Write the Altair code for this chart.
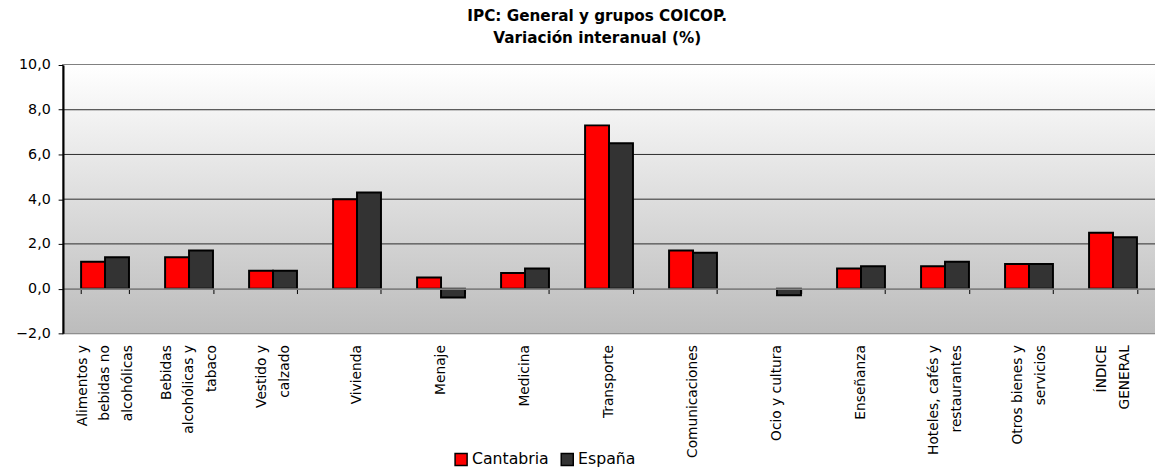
import altair as alt
import pandas as pd

categories = [
    "Alimentos y|bebidas no|alcohólicas",
    "Bebidas|alcohólicas y|tabaco",
    "Vestido y|calzado",
    "Vivienda",
    "Menaje",
    "Medicina",
    "Transporte",
    "Comunicaciones",
    "Ocio y cultura",
    "Enseñanza",
    "Hoteles,  cafés y|restaurantes",
    "Otros bienes y|servicios",
    "ÍNDICE|GENERAL",
]
cantabria = [1.2, 1.4, 0.8, 4.0, 0.5, 0.7, 7.3, 1.7, 0.0, 0.9, 1.0, 1.1, 2.5]
espana = [1.4, 1.7, 0.8, 4.3, -0.4, 0.9, 6.5, 1.6, -0.3, 1.0, 1.2, 1.1, 2.3]
series = ["Cantabria", "España"]
colors = ["#ff0000", "#333333"]
y_ticks = [-2, 0, 2, 4, 6, 8, 10]
grid_values = [2, 4, 6, 8]
title_lines = ["IPC: General y grupos COICOP.", "Variación interanual (%)"]

rows = []
for c, a, b in zip(categories, cantabria, espana):
    rows.append({"cat": c, "serie": series[0], "val": a})
    rows.append({"cat": c, "serie": series[1], "val": b})
df = pd.DataFrame(rows)

W = 1111
H = 273
FONT = "DejaVu Sans"
LH = 23

y_scale = alt.Scale(domain=[-2, 10], nice=False, zero=False)
y_axis = alt.Axis(
    title=None, values=y_ticks,
    labelExpr="replace(format(datum.value, '.1f'), '.', ',')",
    domainColor="black", domainWidth=2,
    tickColor="black", tickSize=5, tickWidth=1,
    labelPadding=8, labelFont=FONT, labelFontSize=14.5,
    labelColor="black", grid=False, zindex=1,
)

bg = alt.Chart(alt.Data(values=[{"a": 1}])).mark_rect(
    fill=alt.LinearGradient(
        gradient="linear",
        stops=[alt.GradientStop(offset=0, color="#ffffff"),
               alt.GradientStop(offset=1, color="#bcbcbc")],
        x1=0, x2=0, y1=0, y2=1,
    ),
    stroke=None,
).encode(x=alt.value(0), x2=alt.value(W), y=alt.value(0), y2=alt.value(H))

grid = alt.Chart(pd.DataFrame({"val": grid_values})).mark_rule(
    color="#2a2a2a", strokeWidth=1
).encode(y=alt.Y("val:Q", scale=y_scale, axis=y_axis))

label_offset = {
    "condition": [
        {"test": "length(split(datum.label, '|')) == 3", "value": -LH},
        {"test": "length(split(datum.label, '|')) == 2", "value": -LH / 2},
    ],
    "value": 0,
}

bars = alt.Chart(df).mark_bar(stroke="black", strokeWidth=2).encode(
    x=alt.X(
        "cat:N",
        sort=categories,
        scale=alt.Scale(paddingInner=0.43, paddingOuter=0.215),
        axis=alt.Axis(
            title=None, orient="bottom", offset=-45.5,
            domainColor="#808080", domainWidth=2,
            tickColor="black", tickSize=5, tickWidth=1, tickBand="extent",
            labelAngle=-90, labelAlign="right", labelBaseline="middle",
            labelPadding=52, labelExpr="split(datum.label, '|')",
            labelLineHeight=LH, labelOffset=label_offset,
            labelFont=FONT, labelFontSize=14,
            labelColor="black", labelOverlap=False, labelLimit=300,
            grid=False, zindex=1,
        ),
    ),
    xOffset=alt.XOffset("serie:N", sort=series,
                        scale=alt.Scale(paddingInner=0, paddingOuter=0)),
    y=alt.Y("val:Q", scale=y_scale, axis=y_axis),
    color=alt.Color(
        "serie:N", sort=series,
        scale=alt.Scale(domain=series, range=colors),
        legend=alt.Legend(
            title=None, orient="none", legendX=397, legendY=393,
            direction="horizontal", symbolType="square", symbolSize=150,
            symbolStrokeColor="black", symbolStrokeWidth=1.5,
            symbolOpacity=1, labelFont=FONT, labelFontSize=16,
            labelColor="black", columnPadding=8, labelOffset=3,
        ),
    ),
    strokeOpacity=alt.condition("datum.val == 0", alt.value(0), alt.value(1)),
)

chart = alt.layer(bg, grid, bars).properties(
    width=W,
    height=H,
    autosize="none",
    padding={"left": 56, "top": 54, "right": 0, "bottom": 133},
    title=alt.TitleParams(
        text=title_lines, font=FONT, fontSize=15.5, fontWeight="bold",
        color="black", anchor="middle", dx=-12, offset=11, lineHeight=22,
    ),
).configure_view(stroke="#808080", strokeWidth=2)

chart.save("out.html", embed_options={"renderer": "svg", "actions": False})
